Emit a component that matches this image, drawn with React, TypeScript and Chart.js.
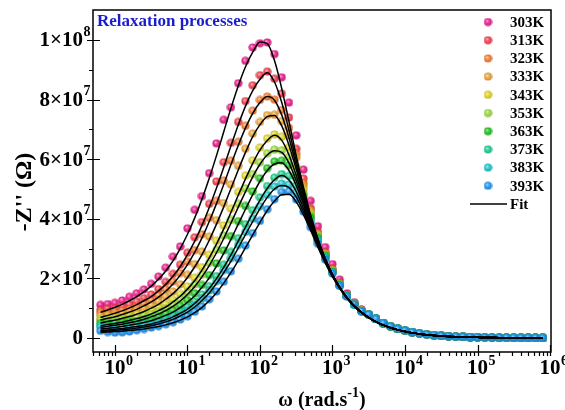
import React, { useEffect, useRef } from 'react';
import { Chart, registerables } from 'chart.js';

Chart.register(...registerables);

// angular frequency grid (rad/s), 10 points per decade
const OMEGA = [
  0.631, 0.794,
  1, 1.259, 1.585, 1.995, 2.512, 3.162, 3.981, 5.012, 6.31, 7.943,
  10, 12.59, 15.85, 19.95, 25.12, 31.62, 39.81, 50.12, 63.1, 79.43,
  100, 125.9, 158.5, 199.5, 251.2, 316.2, 398.1, 501.2, 631, 794.3,
  1000, 1259, 1585, 1995, 2512, 3162, 3981, 5012, 6310, 7943,
  10000, 12589, 15849, 19953, 25119, 31623, 39811, 50119, 63096, 79433,
  100000, 125893, 158489, 199526, 251189, 316228, 398107, 501187, 630957, 794328,
];

const TEMPS = ['303K', '313K', '323K', '333K', '343K', '353K', '363K', '373K', '383K', '393K'];
const COLORS = ['#ec1c8c', '#f43c4c', '#f47c2c', '#eca434', '#e2d624', '#9cdc3c', '#1cc41c', '#1ccc8c', '#1cc4cc', '#1c94f4'];

// -Z'' in units of 1e6 Ohm, for omega from 10^-0.2 to 10^3.4 (first 37 grid points)
const PTS_303K = [11.1, 11.4, 11.8, 12.6, 13.8, 15.0, 16.3, 18.2, 20.6, 23.6, 27.3, 30.7, 36.8, 43.0, 47.6, 55.3, 65.3, 73.2, 77.4, 85.5, 93.0, 97.5, 98.9, 99.2, 95.3, 87.5, 79.0, 68.0, 56.5, 46.0, 37.5, 30.5, 24.8, 19.6, 15.0, 12.0, 9.6];
const PTS_313K = [9.4, 9.8, 10.0, 10.6, 11.3, 12.2, 13.4, 14.6, 16.4, 18.8, 21.5, 24.6, 28.6, 33.8, 38.9, 45.0, 52.5, 59.0, 65.5, 72.5, 79.5, 84.8, 88.2, 89.4, 87.0, 82.0, 74.0, 63.5, 53.5, 43.5, 35.5, 28.8, 23.2, 18.5, 14.6, 11.7, 9.4];
const PTS_323K = [8.5, 8.6, 8.8, 9.2, 9.7, 10.4, 11.5, 12.6, 14.3, 16.4, 18.9, 21.8, 25.6, 29.5, 34.8, 40.3, 46.0, 52.8, 59.5, 65.8, 71.2, 76.3, 79.9, 81.0, 80.0, 76.5, 70.5, 61.8, 52.0, 43.0, 35.0, 28.4, 22.9, 18.2, 14.4, 11.5, 9.3];
const PTS_333K = [7.6, 7.7, 7.9, 8.2, 8.6, 9.2, 9.9, 10.9, 12.2, 13.9, 15.6, 18.0, 21.2, 24.8, 29.0, 34.0, 39.5, 45.3, 51.5, 57.8, 63.5, 68.6, 72.5, 74.8, 74.9, 72.8, 68.0, 60.5, 51.0, 42.5, 34.8, 28.2, 22.8, 18.1, 14.4, 11.5, 9.2];
const PTS_343K = [6.5, 6.6, 6.8, 7.0, 7.4, 7.9, 8.4, 9.2, 10.1, 11.3, 12.8, 14.8, 17.3, 20.2, 23.8, 27.9, 32.6, 37.8, 43.4, 49.0, 54.5, 59.6, 63.9, 67.0, 68.3, 67.5, 64.0, 57.5, 49.8, 41.8, 34.4, 28.0, 22.6, 18.0, 14.3, 11.4, 9.2];
const PTS_353K = [6.0, 6.0, 6.1, 6.3, 6.5, 6.9, 7.4, 8.0, 8.8, 9.9, 11.3, 13.0, 15.3, 18.0, 21.3, 25.2, 29.6, 34.4, 39.6, 45.0, 50.2, 55.0, 59.0, 62.0, 63.2, 63.0, 60.8, 55.5, 48.5, 41.0, 34.0, 27.8, 22.4, 17.9, 14.2, 11.3, 9.1];
const PTS_363K = [5.0, 5.0, 5.1, 5.2, 5.4, 5.7, 6.1, 6.6, 7.3, 8.2, 9.3, 10.8, 12.7, 15.0, 17.8, 21.1, 25.0, 29.4, 34.2, 39.2, 44.3, 49.2, 53.6, 57.0, 59.2, 59.5, 58.0, 53.8, 47.5, 40.5, 33.6, 27.6, 22.3, 17.8, 14.1, 11.3, 9.0];
const PTS_373K = [4.2, 4.0, 4.0, 4.1, 4.3, 4.5, 4.8, 5.3, 5.9, 6.6, 7.6, 8.8, 10.3, 12.2, 14.6, 17.4, 20.8, 24.6, 28.9, 33.5, 38.2, 42.9, 47.2, 51.0, 53.8, 55.0, 54.4, 51.2, 45.8, 39.5, 33.0, 27.2, 22.1, 17.7, 14.1, 11.2, 9.0];
const PTS_383K = [3.6, 3.4, 3.3, 3.4, 3.5, 3.7, 4.0, 4.4, 5.0, 5.7, 6.6, 7.8, 9.2, 11.0, 13.2, 15.9, 19.1, 22.8, 26.8, 31.2, 35.6, 40.0, 44.2, 48.0, 50.8, 51.8, 51.5, 48.8, 44.2, 38.6, 32.6, 27.0, 22.0, 17.6, 14.0, 11.2, 9.0];
const PTS_393K = [2.4, 2.0, 1.8, 1.9, 2.2, 2.6, 3.0, 3.5, 4.0, 4.6, 5.3, 6.2, 7.3, 8.8, 10.6, 13.0, 15.6, 18.9, 22.4, 26.6, 31.0, 35.2, 39.3, 43.2, 46.6, 49.0, 49.2, 46.5, 42.4, 37.2, 31.6, 26.3, 21.6, 17.5, 14.0, 11.3, 9.0];

const FIT_303K = [8.6, 9.4, 10.3, 11.3, 12.5, 13.9, 15.5, 17.4, 19.7, 22.5, 25.9, 30.0, 34.8, 40.3, 46.6, 53.6, 61.2, 69.2, 77.2, 84.6, 91.0, 95.9, 99.3, 98.8, 93.1, 83.7, 72.6, 61.2, 50.6, 41.2, 33.2, 26.7, 21.35, 17.1, 13.55, 10.8, 8.6];
const FIT_313K = [6.9, 7.6, 8.3, 9.1, 10.1, 11.2, 12.5, 13.9, 15.8, 18.0, 20.7, 24.0, 28.0, 32.5, 37.8, 43.8, 50.3, 57.3, 64.5, 71.5, 77.8, 83.0, 86.8, 89.0, 85.9, 79.0, 69.7, 59.5, 49.7, 40.7, 33.0, 26.6, 21.3, 17.0, 13.5, 10.8, 8.6];
const FIT_323K = [6.0, 6.6, 7.1, 7.9, 8.7, 9.6, 10.8, 12.1, 13.7, 15.7, 18.1, 21.1, 24.6, 28.8, 33.6, 39.1, 45.1, 51.5, 58.2, 64.6, 70.5, 75.4, 79.0, 81.0, 79.8, 74.8, 67.1, 58.0, 48.8, 40.2, 32.7, 26.5, 21.2, 17.0, 13.5, 10.7, 8.6];
const FIT_333K = [5.0, 5.5, 6.0, 6.6, 7.2, 8.0, 8.9, 10.0, 11.3, 13.0, 14.9, 17.3, 20.3, 23.9, 28.0, 32.8, 38.2, 44.0, 50.2, 56.4, 62.3, 67.6, 71.6, 74.3, 74.7, 71.2, 64.7, 56.6, 48.0, 39.8, 32.5, 26.3, 21.2, 17.0, 13.5, 10.7, 8.6];
const FIT_343K = [4.1, 4.5, 4.9, 5.3, 5.9, 6.5, 7.2, 8.1, 9.2, 10.4, 12.1, 14.0, 16.4, 19.3, 22.8, 26.9, 31.5, 36.6, 42.2, 47.9, 53.4, 58.6, 63.1, 66.3, 68.0, 66.3, 61.4, 54.5, 46.8, 39.2, 32.2, 26.2, 21.1, 16.9, 13.5, 10.7, 8.6];
const FIT_353K = [3.6, 3.9, 4.3, 4.6, 5.1, 5.6, 6.3, 7.1, 8.0, 9.2, 10.6, 12.4, 14.6, 17.3, 20.5, 24.3, 28.6, 33.4, 38.6, 43.9, 49.1, 54.1, 58.3, 61.4, 62.8, 62.3, 58.7, 52.8, 45.8, 38.6, 31.9, 26.0, 21.0, 16.9, 13.4, 10.7, 8.5];
const FIT_363K = [3.05, 3.3, 3.5, 3.9, 4.3, 4.7, 5.2, 5.8, 6.6, 7.6, 8.7, 10.2, 12.0, 14.2, 17.0, 20.2, 24.1, 28.4, 33.1, 38.2, 43.2, 48.1, 52.6, 56.2, 58.4, 58.8, 56.2, 51.2, 44.8, 38.0, 31.5, 25.8, 20.9, 16.8, 13.4, 10.7, 8.5];
const FIT_373K = [2.55, 2.7, 2.9, 3.2, 3.5, 3.9, 4.2, 4.7, 5.4, 6.1, 7.1, 8.3, 9.7, 11.6, 13.9, 16.6, 19.9, 23.7, 27.9, 32.5, 37.2, 41.9, 46.3, 50.2, 53.1, 54.5, 53.0, 49.1, 43.5, 37.3, 31.1, 25.6, 20.8, 16.8, 13.4, 10.7, 8.5];
const FIT_383K = [2.2, 2.35, 2.55, 2.8, 3.0, 3.35, 3.7, 4.1, 4.7, 5.4, 6.25, 7.4, 8.7, 10.4, 12.6, 15.1, 18.3, 21.9, 25.8, 30.2, 34.7, 39.1, 43.4, 47.2, 50.0, 51.2, 50.5, 47.3, 42.4, 36.6, 30.8, 25.4, 20.7, 16.7, 13.4, 10.7, 8.5];
const FIT_393K = [1.9, 2.0, 2.15, 2.3, 2.5, 2.75, 3.05, 3.4, 3.85, 4.4, 5.1, 6.0, 7.1, 8.5, 10.3, 12.5, 15.2, 18.4, 22.0, 26.0, 30.3, 34.6, 38.8, 42.8, 46.0, 48.1, 48.2, 45.7, 41.3, 36.0, 30.4, 25.2, 20.6, 16.7, 13.3, 10.7, 8.5];

// shared high-frequency tail (omega 10^3.5 .. 10^5.9), where all temperatures coincide
const TAIL_PTS = [7.9, 6.4, 5.0, 3.9, 3.1, 2.5, 1.95, 1.55, 1.2, 0.95, 0.75, 0.6, 0.48, 0.38, 0.3, 0.24, 0.19, 0.15, 0.12, 0.1, 0.08, 0.06, 0.05, 0.04, 0.03];
const TAIL_FIT = [6.83, 5.42, 4.31, 3.42, 2.72, 2.16, 1.72, 1.36, 1.08, 0.86, 0.68, 0.54, 0.43, 0.34, 0.27, 0.22, 0.17, 0.14, 0.11, 0.09, 0.07, 0.05, 0.04, 0.03, 0.03];

const PTS_LOW = [PTS_303K, PTS_313K, PTS_323K, PTS_333K, PTS_343K, PTS_353K, PTS_363K, PTS_373K, PTS_383K, PTS_393K];
const FIT_LOW = [FIT_303K, FIT_313K, FIT_323K, FIT_333K, FIT_343K, FIT_353K, FIT_363K, FIT_373K, FIT_383K, FIT_393K];
const UNIT = 1e6;

const Y_TICKS = [0, 2e7, 4e7, 6e7, 8e7, 1e8];
const Y_MINOR = [1e7, 3e7, 5e7, 7e7, 9e7];
const Y_TICK_MANT = ['0', '2', '4', '6', '8', '1'];
const Y_TICK_EXP = ['', '7', '7', '7', '7', '8'];
const X_TICK_EXP = [0, 1, 2, 3, 4, 5, 6];

const X_MIN = 0.4975;
const X_MAX = 1.032e6;
const Y_MIN = -4.7e6;
const Y_MAX = 1.1007e8;

const TITLE = 'Relaxation processes';
const FONT = "'Liberation Serif', 'Times New Roman', serif";

function hexRgb(h: string) {
  const n = parseInt(h.slice(1), 16);
  return [(n >> 16) & 255, (n >> 8) & 255, n & 255];
}
function mix(h: string, t: number, target: number) {
  const [r, g, b] = hexRgb(h);
  const f = (c: number) => Math.round(c + (target - c) * t);
  return `rgb(${f(r)},${f(g)},${f(b)})`;
}
function sphere(color: string) {
  const c = document.createElement('canvas');
  c.width = 9;
  c.height = 9;
  const g = c.getContext('2d')!;
  const grd = g.createRadialGradient(3.4, 3.2, 0.2, 4.5, 4.5, 4.4);
  grd.addColorStop(0, mix(color, 0.6, 255));
  grd.addColorStop(0.45, color);
  grd.addColorStop(1, mix(color, 0.2, 0));
  g.fillStyle = grd;
  g.globalAlpha = 0.92;
  g.beginPath();
  g.arc(4.5, 4.5, 4.1, 0, Math.PI * 2);
  g.fill();
  return c;
}

export default function App() {
  const ref = useRef<HTMLCanvasElement>(null);
  useEffect(() => {
    document.body.style.margin = '0';
    const imgs = COLORS.map(sphere);
    const datasets: any[] = [];
    TEMPS.forEach((t, i) => {
      datasets.push({
        label: t,
        data: OMEGA.map((w, k) => ({ x: w, y: (k < 37 ? PTS_LOW[i][k] : TAIL_PTS[k - 37]) * UNIT })),
        showLine: false,
        pointStyle: imgs[i],
        pointRadius: 4,
        order: 20 - i,
      });
    });
    TEMPS.forEach((t, i) => {
      datasets.push({
        label: 'Fit ' + t,
        data: OMEGA.map((w, k) => ({ x: w, y: (k < 37 ? FIT_LOW[i][k] : TAIL_FIT[k - 37]) * UNIT })),
        showLine: true,
        borderColor: '#000',
        borderWidth: 1.5,
        pointRadius: 0,
        cubicInterpolationMode: 'monotone',
        order: 0,
      });
    });

    const decor = {
      id: 'decor',
      afterDatasetsDraw(chart: any) {
        const { ctx, chartArea: ca } = chart;
        const xs = chart.scales.x;
        const ys = chart.scales.y;
        ctx.save();
        ctx.strokeStyle = '#000';
        ctx.lineWidth = 1.5;
        ctx.strokeRect(ca.left, ca.top, ca.right - ca.left, ca.bottom - ca.top);
        ctx.lineWidth = 1.2;
        ctx.beginPath();
        for (const e of X_TICK_EXP) {
          const px = Math.round(xs.getPixelForValue(Math.pow(10, e))) + 0.5;
          ctx.moveTo(px, ca.bottom - 7);
          ctx.lineTo(px, ca.bottom + 4);
        }
        for (let e = -1; e <= 5; e++) {
          for (let m = 2; m <= 9; m++) {
            const v = m * Math.pow(10, e);
            if (v < X_MIN || v > X_MAX) continue;
            const px = Math.round(xs.getPixelForValue(v)) + 0.5;
            ctx.moveTo(px, ca.bottom);
            ctx.lineTo(px, ca.bottom + 4);
          }
        }
        for (const v of Y_TICKS) {
          const py = Math.round(ys.getPixelForValue(v)) + 0.5;
          ctx.moveTo(ca.left - 6, py);
          ctx.lineTo(ca.left + 7, py);
        }
        for (const v of Y_MINOR) {
          const py = Math.round(ys.getPixelForValue(v)) + 0.5;
          ctx.moveTo(ca.left - 4, py);
          ctx.lineTo(ca.left, py);
        }
        ctx.stroke();

        ctx.fillStyle = '#000';
        ctx.textBaseline = 'middle';
        // y tick labels
        Y_TICKS.forEach((v, i) => {
          const py = ys.getPixelForValue(v);
          const base = i === 0 ? '0' : Y_TICK_MANT[i] + '×10';
          ctx.font = `bold 21px ${FONT}`;
          ctx.textAlign = 'right';
          const right = 83;
          ctx.fillText(base, right, py + 1);
          if (Y_TICK_EXP[i]) {
            ctx.font = `bold 14px ${FONT}`;
            ctx.textAlign = 'left';
            ctx.fillText(Y_TICK_EXP[i], right + 0.5, py - 8);
          }
        });
        // x tick labels
        X_TICK_EXP.forEach((e) => {
          const px = xs.getPixelForValue(Math.pow(10, e));
          ctx.font = `bold 21px ${FONT}`;
          ctx.textAlign = 'center';
          ctx.fillText('10', px, ca.bottom + 17);
          const w = ctx.measureText('10').width;
          ctx.font = `bold 14px ${FONT}`;
          ctx.textAlign = 'left';
          ctx.fillText(String(e), px + w / 2 + 0.5, ca.bottom + 9);
        });
        // x axis title
        const p1 = 'ω (rad.s';
        const p2 = '-1';
        const p3 = ')';
        ctx.font = `bold 20px ${FONT}`;
        const w1 = ctx.measureText(p1).width;
        const w3 = ctx.measureText(p3).width;
        ctx.font = `bold 14px ${FONT}`;
        const w2 = ctx.measureText(p2).width;
        let sx = (ca.left + ca.right) / 2 - (w1 + w2 + w3) / 2;
        ctx.textAlign = 'left';
        ctx.font = `bold 20px ${FONT}`;
        ctx.fillText(p1, sx, 401);
        sx += w1;
        ctx.font = `bold 14px ${FONT}`;
        ctx.fillText(p2, sx, 393);
        sx += w2;
        ctx.font = `bold 20px ${FONT}`;
        ctx.fillText(p3, sx, 401);
        // y axis title
        ctx.save();
        ctx.translate(25, 192);
        ctx.rotate(-Math.PI / 2);
        ctx.textAlign = 'center';
        ctx.font = `bold 24px ${FONT}`;
        ctx.fillText("-Z'' (Ω)", 0, 0);
        ctx.restore();
        // in-plot title
        ctx.fillStyle = '#1b1bd0';
        ctx.textAlign = 'left';
        ctx.font = `bold 17px ${FONT}`;
        ctx.fillText(TITLE, ca.left + 4, 22);
        // legend
        ctx.fillStyle = '#000';
        ctx.font = `bold 15px ${FONT}`;
        TEMPS.forEach((t, i) => {
          const ly = 22 + i * 18.2;
          ctx.drawImage(imgs[i], 483.5, ly - 4.5);
          ctx.fillText(t, 510, ly + 1);
        });
        const fy = 22 + 10 * 18.2;
        ctx.lineWidth = 1.5;
        ctx.beginPath();
        ctx.moveTo(470, fy);
        ctx.lineTo(507, fy);
        ctx.stroke();
        ctx.fillText('Fit', 510, fy + 1);
        ctx.restore();
      },
    };

    const chart = new Chart(ref.current!, {
      type: 'scatter',
      data: { datasets },
      options: {
        animation: false,
        responsive: false,
        maintainAspectRatio: false,
        devicePixelRatio: 1,
        layout: { padding: { left: 93, top: 10, right: 14, bottom: 58 } },
        scales: {
          x: { type: 'logarithmic', min: X_MIN, max: X_MAX, display: false },
          y: { type: 'linear', min: Y_MIN, max: Y_MAX, display: false },
        },
        plugins: { legend: { display: false }, tooltip: { enabled: false } },
      },
      plugins: [decor],
    } as any);
    return () => chart.destroy();
  }, []);
  return (
    <div style={{ width: 565, height: 410 }}>
      <canvas ref={ref} width={565} height={410} style={{ display: 'block' }} />
    </div>
  );
}
